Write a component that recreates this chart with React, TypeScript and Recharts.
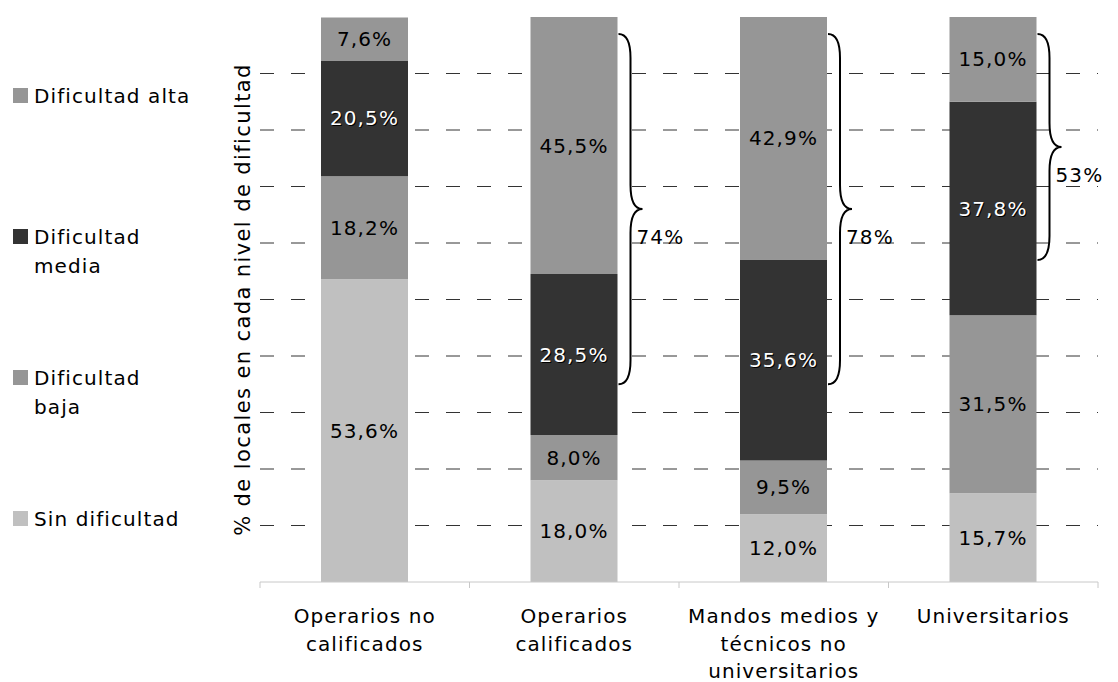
import React from 'react'
import { BarChart, Bar, XAxis, YAxis, CartesianGrid, LabelList } from 'recharts'

const categories = [
  'Operarios no\ncalificados',
  'Operarios\ncalificados',
  'Mandos medios y\ntécnicos no\nuniversitarios',
  'Universitarios',
]
const sinDificultad = [53.6, 18.0, 12.0, 15.7]
const dificultadBaja = [18.2, 8.0, 9.5, 31.5]
const dificultadMedia = [20.5, 28.5, 35.6, 37.8]
const dificultadAlta = [7.6, 45.5, 42.9, 15.0]

// llaves (media + alta), rango en % del eje
const llaveTexto = ['', '74%', '78%', '53%']
const llaveDesde = [0, 35, 35, 57]
const llaveHasta = [0, 97, 97, 97]

const gridTicks = [10, 20, 30, 40, 50, 60, 70, 80, 90]

const FONT = '"DejaVu Sans", Verdana, sans-serif'
const SPACING = 1.1

const series = [
  { key: 'sin', name: 'Sin dificultad', color: '#c0c0c0', dark: false },
  { key: 'baja', name: 'Dificultad\nbaja', color: '#969696', dark: false },
  { key: 'media', name: 'Dificultad\nmedia', color: '#333333', dark: true },
  { key: 'alta', name: 'Dificultad alta', color: '#969696', dark: false },
]

const data = categories.map((name, i) => ({
  name,
  sin: sinDificultad[i],
  baja: dificultadBaja[i],
  media: dificultadMedia[i],
  alta: dificultadAlta[i],
}))

const fmt = (v: number) => v.toFixed(1).replace('.', ',') + '%'

const segmentLabel = (dark: boolean) => (props: any) => {
  const { x, y, width, height } = props
  let value = props.value
  if (Array.isArray(value)) value = value[1] - value[0]
  const cx = x + width / 2
  const cy = y + height / 2
  const style = { fontSize: 20, letterSpacing: SPACING, fontFamily: FONT }
  if (dark) {
    return (
      <g>
        <text x={cx + 1} y={cy + 1} textAnchor="middle" dominantBaseline="central" fill="#000" style={style}>
          {fmt(value)}
        </text>
        <text x={cx} y={cy} textAnchor="middle" dominantBaseline="central" fill="#fff" style={style}>
          {fmt(value)}
        </text>
      </g>
    )
  }
  return (
    <text x={cx} y={cy} textAnchor="middle" dominantBaseline="central" fill="#000" style={style}>
      {fmt(value)}
    </text>
  )
}

// llave dibujada junto al segmento superior de cada barra
const renderLlave = (props: any) => {
  const { x, y, width, height, index } = props
  if (!llaveTexto[index]) return null
  const k = height / dificultadAlta[index]
  const bottom = y + height + (sinDificultad[index] + dificultadBaja[index] + dificultadMedia[index]) * k
  const yOf = (v: number) => bottom - v * k
  const t = yOf(llaveHasta[index])
  const b = yOf(llaveDesde[index])
  const m = (t + b) / 2
  const xs = x + width + 1
  const xv = xs + 12
  const xt = xs + 24
  const r = 24
  const d = `M ${xs} ${t} Q ${xv} ${t} ${xv} ${t + r} L ${xv} ${m - r} Q ${xv} ${m} ${xt} ${m} Q ${xv} ${m} ${xv} ${m + r} L ${xv} ${b - r} Q ${xv} ${b} ${xs} ${b}`
  return (
    <g>
      <path d={d} fill="none" stroke="#000" strokeWidth={2} />
      <text x={xs + 18} y={m + 28} dominantBaseline="central" fill="#000" style={{ fontSize: 20, letterSpacing: SPACING, fontFamily: FONT }}>
        {llaveTexto[index]}
      </text>
    </g>
  )
}

// sin líneas en el borde superior e inferior del área
const gridLine = (p: any) => {
  const { x1, x2, y1, y2, y, height, stroke, strokeDasharray } = p
  if (Math.abs(y1 - y) < 1 || Math.abs(y1 - (y + height)) < 1) return <g key={p.key} />
  return <line key={p.key} x1={x1} x2={x2} y1={y1} y2={y2} stroke={stroke} strokeDasharray={strokeDasharray} />
}

function CategoryTick(props: any) {
  const { x, y, payload, index } = props
  const lines = String(payload.value).split('\n')
  const half = payload.offset ?? 0
  return (
    <g>
      <line x1={x - half} x2={x - half} y1={y} y2={y + 6} stroke="#c8c8c8" />
      {index === categories.length - 1 && (
        <line x1={x + half} x2={x + half} y1={y} y2={y + 6} stroke="#c8c8c8" />
      )}
      <text x={x} y={y + 41} textAnchor="middle" fill="#000" style={{ fontSize: 20, letterSpacing: SPACING, fontFamily: FONT }}>
        {lines.map((l, i) => (
          <tspan key={i} x={x} dy={i === 0 ? 0 : 27.5}>
            {l}
          </tspan>
        ))}
      </text>
    </g>
  )
}

export default function App() {
  const legendItems = [...series].reverse()
  return (
    <div style={{ position: 'absolute', left: 0, top: 0, width: 1118, height: 682, background: '#fff', fontFamily: FONT }}>
      <BarChart
        width={1118}
        height={682}
        data={data}
        margin={{ top: 17, right: 20, bottom: 0, left: 226 }}
        style={{ fontFamily: FONT }}
      >
        <CartesianGrid vertical={false} horizontal={gridLine} stroke="#333" strokeDasharray="14 17" />
        <XAxis
          dataKey="name"
          interval={0}
          height={100}
          tickSize={0}
          tickMargin={0}
          tickLine={false}
          axisLine={{ stroke: '#c8c8c8' }}
          tick={<CategoryTick />}
        />
        <YAxis
          type="number"
          domain={[0, 100]}
          ticks={gridTicks}
          width={34}
          axisLine={false}
          tickLine={false}
          tick={() => <g />}
          label={{
            value: '% de locales en cada nivel de dificultad',
            angle: -90,
            position: 'center',
            style: { fontSize: 21, letterSpacing: 1.4, fill: '#000', fontFamily: FONT, textAnchor: 'middle' },
          }}
        />
        {series.map((s) => (
          <Bar key={s.key} dataKey={s.key} name={s.name} stackId="a" fill={s.color} barSize={87} isAnimationActive={false}>
            <LabelList dataKey={s.key} content={segmentLabel(s.dark)} />
            {s.key === 'alta' && <LabelList dataKey="alta" content={renderLlave} />}
          </Bar>
        ))}
      </BarChart>
      <div style={{ position: 'absolute', left: 13, top: 82, fontSize: 20, letterSpacing: SPACING, lineHeight: '29px', color: '#000' }}>
        {legendItems.map((s) => (
          <div key={s.key} style={{ height: 141, display: 'flex', alignItems: 'flex-start' }}>
            <span style={{ display: 'inline-block', width: 15, height: 15, background: s.color, marginTop: 6, marginRight: 6 }} />
            <span style={{ whiteSpace: 'pre' }}>{s.name}</span>
          </div>
        ))}
      </div>
    </div>
  )
}
